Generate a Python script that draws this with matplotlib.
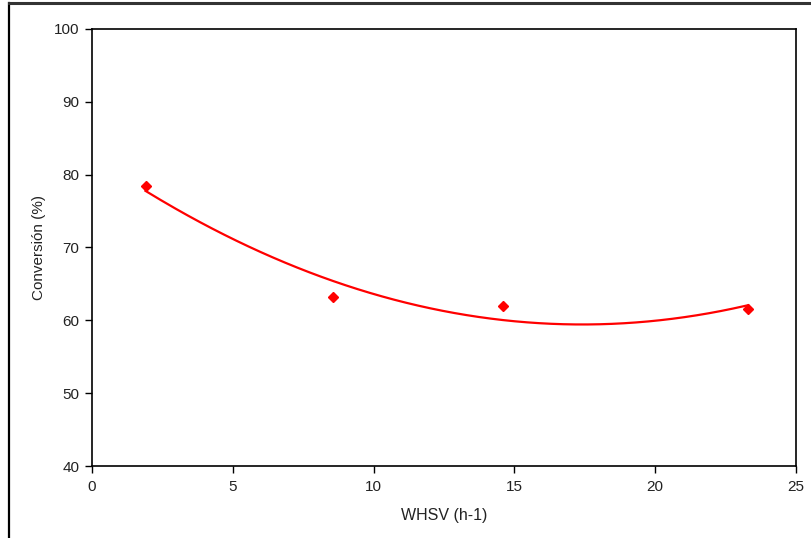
import numpy as np
import matplotlib
matplotlib.use("Agg")
import matplotlib.pyplot as plt
from matplotlib.lines import Line2D

plt.rcParams['font.family'] = ['Liberation Sans', 'DejaVu Sans']

whsv = [1.9, 8.55, 14.6, 23.3]
conversion = [78.5, 63.2, 62.0, 61.6]
x_ticks = [0, 5, 10, 15, 20, 25]
y_ticks = [40, 50, 60, 70, 80, 90, 100]

W, H = 811, 538
fig = plt.figure(figsize=(W / 100, H / 100), dpi=100)
ax = fig.add_axes([92 / W, 1 - 466 / H, (796 - 92) / W, (466 - 29) / H])

coef = np.polyfit(whsv, conversion, 2)
xs = np.linspace(min(whsv), max(whsv), 200)
ax.plot(xs, np.polyval(coef, xs), color='#ff0000', lw=1.6)
ax.plot(whsv, conversion, linestyle='none', marker='D', markersize=5.5,
        color='#ff0000')

ax.set_xlim(0, 25)
ax.set_ylim(40, 100)
ax.set_xticks(x_ticks)
ax.set_yticks(y_ticks)
ax.tick_params(direction='out', length=5, width=1, labelsize=11, pad=4,
               colors='black', labelcolor='#222222')
ax.tick_params(axis='x', pad=5)
for s in ax.spines.values():
    s.set_linewidth(1.2)
    s.set_color('black')
ax.set_xlabel('WHSV (h-1)', fontsize=11.5, labelpad=10, color='#222222')
ax.set_ylabel('Conversión (%)', fontsize=11, labelpad=6, color='#222222')

# outer border of the chart (cropped at right and bottom)
fig.add_artist(Line2D([9 / W, 9 / W], [0, 1 - 3 / H], transform=fig.transFigure,
                      color='black', lw=1.6))
fig.add_artist(Line2D([9 / W, 1], [1 - 3 / H, 1 - 3 / H], transform=fig.transFigure,
                      color='#333333', lw=2.2))

fig.savefig('out.png', dpi=100)
